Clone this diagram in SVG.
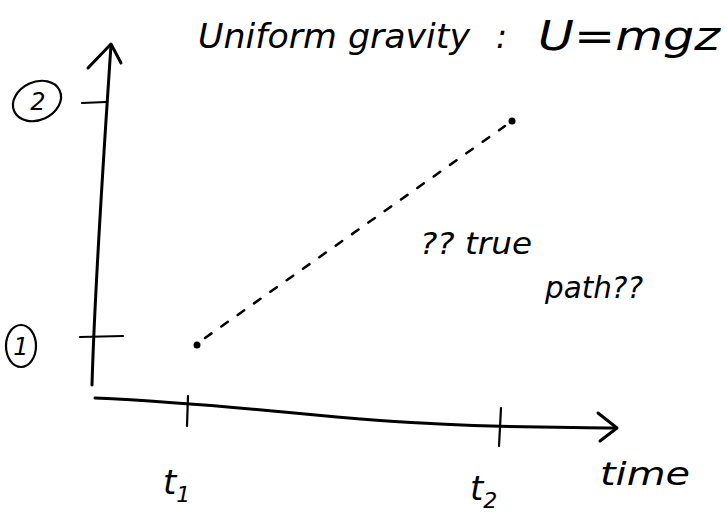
<svg xmlns="http://www.w3.org/2000/svg" width="727" height="515" viewBox="0 0 727 515">
<style>
.ln{fill:none;stroke:#000;stroke-width:3;stroke-linecap:round;stroke-linejoin:round}
.th{fill:none;stroke:#000;stroke-width:2.2;stroke-linecap:round}
.dash{fill:none;stroke:#000;stroke-width:2.5;stroke-dasharray:8 12;stroke-linecap:round}
.tx{font-family:"DejaVu Sans","Liberation Sans",sans-serif;font-style:oblique;fill:#000}
</style>
<rect width="727" height="515" fill="#fff"/>
<g id="connectors">
<path id="z-axis" class="ln" d="M92,385 C95,280 104,150 111,45"/>
<path class="ln" d="M88,68 L111,44 L121,63"/>
<path id="time-axis" class="ln" d="M95,398 C250,405 330,420 440,424 C520,428 570,427 616,428"/>
<path class="ln" d="M598,413 L617,428 L600,441"/>
<path id="guess-path" class="dash" d="M205,338 L505,126"/>
</g>
<g id="tick-2"><path class="th" d="M82,103 L106,102"/></g>
<g id="tick-1"><path class="th" d="M80,337 L123,336"/></g>
<g id="tick-t1"><path class="th" d="M188,396 L187,426"/></g>
<g id="tick-t2"><path class="th" d="M501,408 L499,446"/></g>
<g id="point-1"><circle cx="197" cy="345" r="3.5" fill="#000"/></g>
<g id="point-2"><circle cx="512" cy="121" r="3.5" fill="#000"/></g>
<g id="label-2">
<ellipse cx="37" cy="101" rx="25" ry="19" transform="rotate(-25 37 101)" class="th"/>
<text class="tx" x="38" y="110" font-size="24" text-anchor="middle">2</text>
</g>
<g id="label-1">
<ellipse cx="21" cy="346" rx="15" ry="21" class="th"/>
<text class="tx" x="21" y="355" font-size="24" text-anchor="middle">1</text>
</g>
<g id="title">
<text class="tx" x="198" y="48" font-size="33" textLength="272" lengthAdjust="spacingAndGlyphs">Uniform gravity</text>
<text class="tx" x="496" y="48" font-size="33">:</text>
<text class="tx" x="538" y="50" font-size="40" textLength="182" lengthAdjust="spacingAndGlyphs">U=mgz</text>
</g>
<g id="note">
<text class="tx" x="420" y="254" font-size="30" textLength="112" lengthAdjust="spacingAndGlyphs">?? true</text>
<text class="tx" x="545" y="298" font-size="30" textLength="98" lengthAdjust="spacingAndGlyphs">path??</text>
</g>
<g id="label-t1"><text class="tx" x="163" y="494" font-size="34">t<tspan font-size="22" dy="8">1</tspan></text></g>
<g id="label-t2"><text class="tx" x="470" y="500" font-size="34">t<tspan font-size="22" dy="8">2</tspan></text></g>
<g id="label-time"><text class="tx" x="600" y="485" font-size="32" textLength="90" lengthAdjust="spacingAndGlyphs">time</text></g>
</svg>
